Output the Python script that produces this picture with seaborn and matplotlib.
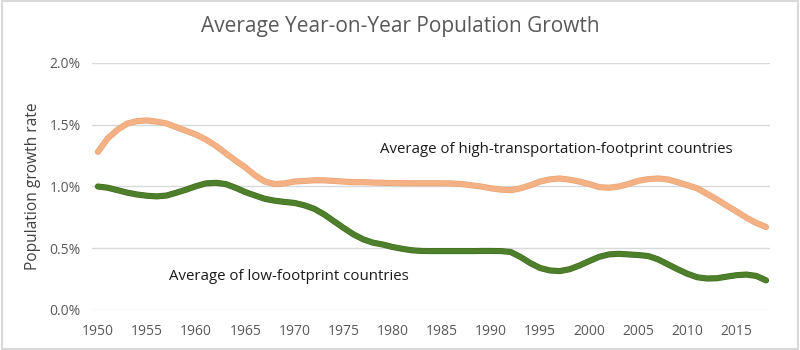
import matplotlib
matplotlib.use("Agg")
import matplotlib.pyplot as plt
import matplotlib.patheffects as pe
import seaborn as sns
import pandas as pd
import numpy as np
from matplotlib.ticker import FuncFormatter, MultipleLocator
from matplotlib.patches import Rectangle

years = list(range(1950, 2019))
high_footprint = [
    1.28, 1.39, 1.46, 1.51, 1.53, 1.535, 1.525, 1.51, 1.48, 1.45,
    1.42, 1.38, 1.33, 1.27, 1.21, 1.155, 1.09, 1.04, 1.02, 1.025,
    1.04, 1.045, 1.05, 1.05, 1.045, 1.04, 1.035, 1.035, 1.032, 1.03,
    1.028, 1.027, 1.026, 1.026, 1.026, 1.026, 1.025, 1.02, 1.01, 1.0,
    0.985, 0.975, 0.97, 0.985, 1.01, 1.04, 1.058, 1.065, 1.055, 1.04,
    1.02, 0.995, 0.99, 1.0, 1.02, 1.046, 1.06, 1.065, 1.057, 1.035,
    1.01, 0.985, 0.94, 0.895, 0.845, 0.797, 0.748, 0.705, 0.672,
]
low_footprint = [
    1.0, 0.99, 0.97, 0.95, 0.935, 0.925, 0.92, 0.927, 0.95, 0.975,
    1.003, 1.025, 1.03, 1.02, 0.99, 0.955, 0.927, 0.90, 0.885, 0.875,
    0.867, 0.848, 0.82, 0.775, 0.72, 0.665, 0.613, 0.572, 0.545, 0.53,
    0.51, 0.495, 0.483, 0.478, 0.477, 0.477, 0.477, 0.477, 0.477, 0.478,
    0.478, 0.477, 0.47, 0.43, 0.38, 0.34, 0.32, 0.315, 0.33, 0.36,
    0.396, 0.43, 0.45, 0.455, 0.45, 0.445, 0.437, 0.41, 0.37, 0.33,
    0.293, 0.265, 0.255, 0.257, 0.27, 0.282, 0.287, 0.276, 0.24,
]
series_names = ["Average of high-transportation-footprint countries",
                "Average of low-footprint countries"]
x_tick_labels = list(range(1950, 2016, 5))

df = pd.concat([
    pd.DataFrame({"year": years, "rate": high_footprint, "series": series_names[0]}),
    pd.DataFrame({"year": years, "rate": low_footprint, "series": series_names[1]}),
])

sns.set_style("white")
plt.rcParams["font.family"] = ["Open Sans", "DejaVu Sans"]

fig = plt.figure(figsize=(8, 3.5), dpi=100)
ax = fig.add_axes([0.115, 0.1143, 0.8475, 0.7057])

sns.lineplot(data=df, x="year", y="rate", hue="series",
             palette={series_names[0]: "#F4B183", series_names[1]: "#4E7F2A"},
             linewidth=3.6, legend=False, ax=ax, solid_capstyle="round")

edge_colors = ["#E9A273", "#3F6B20"]
for line, ec in zip(ax.get_lines(), edge_colors):
    line.set_path_effects([pe.Stroke(linewidth=4.4, foreground=ec), pe.Normal()])

ax.set_xlim(1949.4, 2018.4)
ax.set_ylim(0, 2.0)
ax.yaxis.set_major_locator(MultipleLocator(0.5))
ax.yaxis.set_major_formatter(FuncFormatter(lambda v, p: f"{v:.1f}%"))
ax.set_xticks(x_tick_labels)
ax.set_xticklabels([str(t) for t in x_tick_labels])
ax.grid(axis="y", color="#D9D9D9", linewidth=1)
ax.set_axisbelow(True)
for s in ax.spines.values():
    s.set_visible(False)
ax.tick_params(axis="both", length=0, labelsize=10, labelcolor="#595959")
ax.tick_params(axis="x", pad=10)
ax.tick_params(axis="y", pad=8)
ax.set_xlabel("")
ax.set_ylabel("Population growth rate", fontsize=11.2, color="#404040", labelpad=6)

fig.text(0.5, 0.925, "Average Year-on-Year Population Growth",
         ha="center", va="center", fontsize=15, color="#595959")

ax.text(1978.7, 1.3, series_names[0], ha="left", va="center",
        fontsize=10.8, color="#1A1A1A")
ax.text(1957.2, 0.27, series_names[1], ha="left", va="center",
        fontsize=10.8, color="#1A1A1A")

fig.patches.append(Rectangle((0.002, 0.003), 0.996, 0.994, transform=fig.transFigure,
                             fill=False, edgecolor="#D9D9D9", linewidth=1.5))

fig.savefig("out.png", dpi=100)
